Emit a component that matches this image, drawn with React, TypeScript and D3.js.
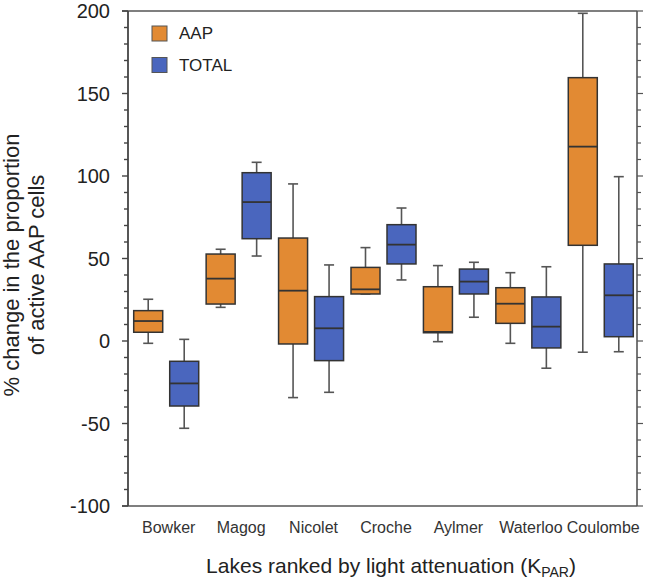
import React from "react";
import * as d3 from "d3";

const lakes = ["Bowker", "Magog", "Nicolet", "Croche", "Aylmer", "Waterloo", "Coulombe"];
const seriesNames = ["AAP", "TOTAL"];
// [min, q1, median, q3, max]
const aapStats = [
  [-1.4, 5.3, 12.1, 18.4, 25.3],
  [20.4, 22.4, 37.8, 52.7, 55.6],
  [-34.3, -1.8, 30.5, 62.4, 95.2],
  [28.5, 28.5, 31.3, 44.6, 56.6],
  [-0.4, 5.0, 5.5, 32.9, 45.7],
  [-1.4, 10.7, 22.6, 32.3, 41.4],
  [-6.8, 58.0, 117.8, 159.6, 198.6],
];
const totalStats = [
  [-52.9, -39.4, -25.7, -12.3, 1.0],
  [51.5, 62.0, 84.2, 102.0, 108.3],
  [-31.1, -11.9, 7.7, 26.9, 46.1],
  [37.0, 46.7, 58.4, 70.5, 80.6],
  [14.4, 28.5, 36.0, 43.6, 47.7],
  [-16.5, -4.2, 8.7, 26.7, 45.0],
  [-6.5, 2.6, 27.7, 46.7, 99.6],
];
const yMajorTicks = [-100, -50, 0, 50, 100, 150, 200];
const yMinorTicks = d3.range(-100, 201, 10);

const colors = ["#E28A33", "#4A66BE"];
const FONT = "Liberation Sans, Arial, sans-serif";

export default function App() {
  const W = 647, H = 581;
  const left = 128, right = 637, top = 11, bottom = 506;
  const y = d3.scaleLinear().domain([-100, 200]).range([bottom, top]);
  const x = d3.scaleBand().domain(lakes).range([left + 2, right]).paddingInner(0).paddingOuter(0);
  const boxW = 29;
  const offset = 18;
  const capW = 10;
  const stroke = "#333";
  const whisk = "#555";

  const drawBox = (s: number[], cx: number, fill: string, key: string) => {
    const [mn, q1, md, q3, mx] = s;
    return (
      <g key={key}>
        <line x1={cx} x2={cx} y1={y(q3)} y2={y(mx)} stroke={whisk} strokeWidth={1.6} />
        <line x1={cx} x2={cx} y1={y(q1)} y2={y(mn)} stroke={whisk} strokeWidth={1.6} />
        <line x1={cx - capW / 2} x2={cx + capW / 2} y1={y(mx)} y2={y(mx)} stroke={whisk} strokeWidth={1.6} />
        <line x1={cx - capW / 2} x2={cx + capW / 2} y1={y(mn)} y2={y(mn)} stroke={whisk} strokeWidth={1.6} />
        <rect x={cx - boxW / 2} y={y(q3)} width={boxW} height={y(q1) - y(q3)} fill={fill} stroke={stroke} strokeWidth={1.5} />
        <line x1={cx - boxW / 2} x2={cx + boxW / 2} y1={y(md)} y2={y(md)} stroke={stroke} strokeWidth={1.8} />
      </g>
    );
  };

  return (
    <svg width={W} height={H} style={{ position: "absolute", left: 0, top: 0 }} fontFamily={FONT}>
      <rect width={W} height={H} fill="#fff" />
      {/* frame */}
      <line x1={left - 6} x2={right} y1={top} y2={top} stroke="#555" strokeWidth={1.6} />
      <line x1={left - 6} x2={right} y1={bottom} y2={bottom} stroke="#555" strokeWidth={1.6} />
      <line x1={left} x2={left} y1={top} y2={bottom} stroke="#444" strokeWidth={1.8} />
      <line x1={right} x2={right} y1={top} y2={bottom} stroke="#555" strokeWidth={1.6} />
      {/* ticks */}
      {yMinorTicks.map((t) => {
        const major = yMajorTicks.includes(t);
        return (
          <g key={"t" + t}>
            <line x1={left - (major ? 6 : 4)} x2={left} y1={y(t)} y2={y(t)} stroke="#444" strokeWidth={1.4} />
            <line x1={right} x2={right + (major ? 6 : 4)} y1={y(t)} y2={y(t)} stroke="#555" strokeWidth={1.2} />
          </g>
        );
      })}
      {yMajorTicks.map((t) => (
        <text key={"l" + t} x={110} y={y(t)} dy="0.35em" textAnchor="end" fontSize={20} fill="#222">
          {t}
        </text>
      ))}
      {/* boxes */}
      {lakes.map((l, i) => {
        const c = (x(l) as number) + x.bandwidth() / 2;
        return (
          <g key={l}>
            {drawBox(aapStats[i], c - offset, colors[0], l + "a")}
            {drawBox(totalStats[i], c + offset, colors[1], l + "t")}
          </g>
        );
      })}
      {/* category labels */}
      {lakes.map((l) => {
        const c = (x(l) as number) + x.bandwidth() / 2;
        return (
          <text key={"c" + l} x={c + 2.5} y={533} textAnchor="middle" fontSize={16} fill="#333">
            {l}
          </text>
        );
      })}
      {/* legend */}
      {seriesNames.map((s, i) => (
        <g key={s}>
          <rect x={152} y={26 + i * 31.5} width={15} height={15} fill={colors[i]} stroke="#555" strokeWidth={1} />
          <text x={179} y={33.5 + i * 31.5} dy="0.35em" fontSize={17} fill="#222">
            {s}
          </text>
        </g>
      ))}
      {/* axis titles */}
      <text x={391} y={573} textAnchor="middle" fontSize={21} fill="#222">
        Lakes ranked by light attenuation (K<tspan fontSize={14} dy={4}>PAR</tspan><tspan dy={-4}>)</tspan>
      </text>
      <g transform="translate(19,265) rotate(-90)">
        <text x={0} y={0} textAnchor="middle" fontSize={22} fill="#222">% change in the proportion</text>
        <text x={0} y={25} textAnchor="middle" fontSize={22} fill="#222">of active AAP cells</text>
      </g>
    </svg>
  );
}
